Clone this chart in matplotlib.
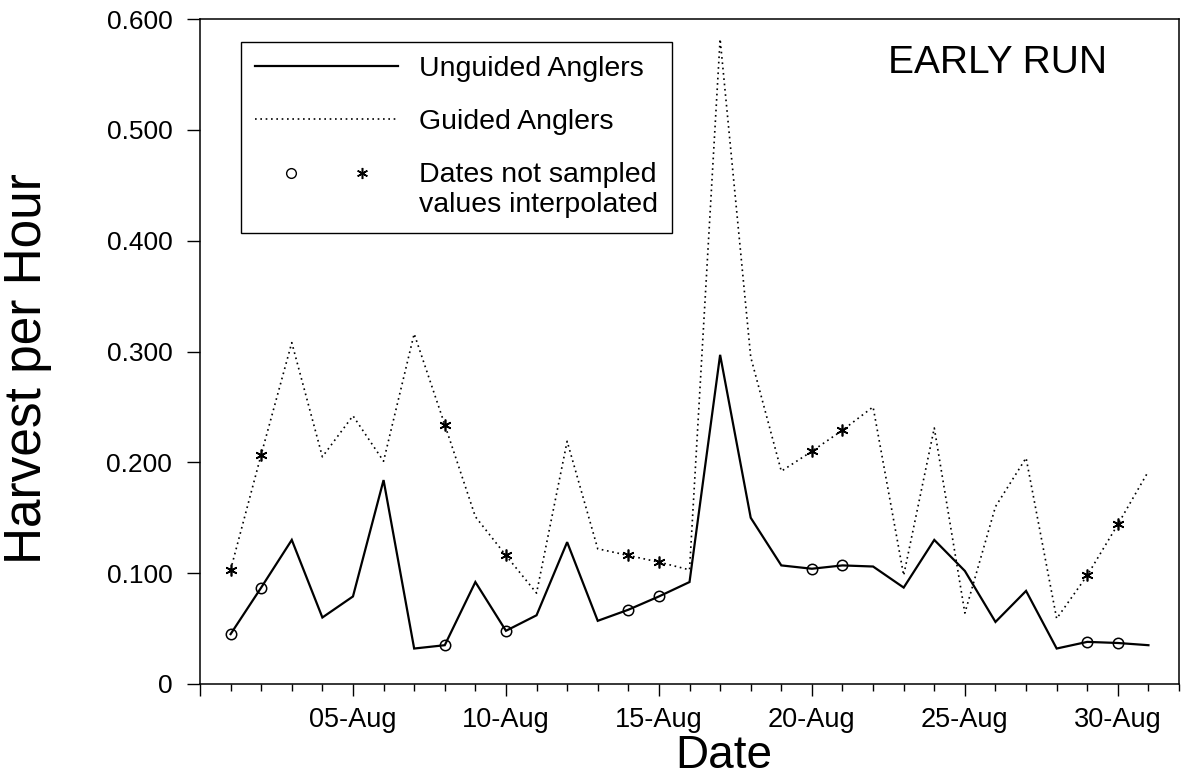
import numpy as np
import matplotlib
matplotlib.use("Agg")
import matplotlib.pyplot as plt
from matplotlib.lines import Line2D
from matplotlib.legend_handler import HandlerLine2D, HandlerTuple
from matplotlib.ticker import FixedLocator, MultipleLocator

plt.rcParams["font.family"] = ["Liberation Sans", "DejaVu Sans"]

# ---------------- DATA ----------------
days = np.arange(1, 32)  # August 1..31

unguided = [0.045, 0.087, 0.130, 0.060, 0.079, 0.184, 0.032, 0.035, 0.092, 0.048,
            0.062, 0.128, 0.057, 0.067, 0.079, 0.092, 0.297, 0.150, 0.107, 0.104,
            0.107, 0.106, 0.087, 0.130, 0.102, 0.056, 0.084, 0.032, 0.038, 0.037,
            0.035]

guided = [0.103, 0.207, 0.308, 0.205, 0.242, 0.201, 0.316, 0.234, 0.151, 0.116,
          0.082, 0.219, 0.122, 0.116, 0.110, 0.103, 0.582, 0.295, 0.192, 0.210,
          0.229, 0.250, 0.098, 0.231, 0.064, 0.160, 0.204, 0.059, 0.098, 0.144,
          0.192]

# dates not sampled (values interpolated)
not_sampled = [1, 2, 8, 10, 14, 15, 20, 21, 29, 30]

major_days = [0, 5, 10, 15, 20, 25, 30]
major_labels = ["", "05-Aug", "10-Aug", "15-Aug", "20-Aug", "25-Aug", "30-Aug"]
y_ticks = [0, 0.1, 0.2, 0.3, 0.4, 0.5, 0.6]
y_labels = ["0", "0.100", "0.200", "0.300", "0.400", "0.500", "0.600"]

# ---------------- PLOT ----------------
fig = plt.figure(figsize=(11.82, 7.77), dpi=100)
ax = fig.add_axes([0.1692, 0.1197, 0.8283, 0.8558])

idx = [d - 1 for d in not_sampled]
dotted = (0, (1, 2.2))

ax.plot(days, unguided, color="black", lw=1.6, solid_joinstyle="miter")
ax.plot(days, guided, color="black", lw=1.2, linestyle=dotted)
ax.plot(days, unguided, linestyle="none", marker="o", ms=7.5, mfc="none",
        mec="black", mew=1.1, markevery=idx)
ax.plot(days, guided, linestyle="none", marker=(6, 2, 0), ms=8.5,
        mec="black", mew=1.2, markevery=idx)

ax.set_xlim(0, 32)
ax.set_ylim(0, 0.6)
ax.xaxis.set_major_locator(FixedLocator(major_days))
ax.set_xticklabels(major_labels)
ax.xaxis.set_minor_locator(MultipleLocator(1))
ax.set_yticks(y_ticks)
ax.set_yticklabels(y_labels)

ax.tick_params(axis="x", which="major", direction="out", length=8.6, width=1.0,
               labelsize=19.5, pad=8)
ax.tick_params(axis="x", which="minor", direction="out", length=5, width=1.0)
ax.tick_params(axis="y", which="major", direction="out", length=9.4, width=1.0,
               labelsize=19, pad=10.5)
for sp in ax.spines.values():
    sp.set_linewidth(1.1)


class RaisedHandler(HandlerLine2D):
    # put the markers on the first line of a two-line label
    def create_artists(self, legend, orig_handle, xdescent, ydescent, width,
                       height, fontsize, trans):
        return super().create_artists(legend, orig_handle, xdescent,
                                      ydescent - 1.2 * fontsize, width, height,
                                      fontsize, trans)


h_solid = Line2D([], [], color="black", lw=1.6)
h_dot = Line2D([], [], color="black", lw=1.2, linestyle=dotted)
h_circ = Line2D([], [], linestyle="none", marker="o", ms=7, mfc="none",
                mec="black", mew=1.0)
h_star = Line2D([], [], linestyle="none", marker=(6, 2, 0), ms=8,
                mec="black", mew=1.1)

leg = ax.legend([h_solid, h_dot, (h_circ, h_star)],
                ["Unguided Anglers", "Guided Anglers",
                 "Dates not sampled\nvalues interpolated"],
                handler_map={tuple: HandlerTuple(ndivide=None, pad=0),
                             h_circ: RaisedHandler(), h_star: RaisedHandler()},
                loc="upper left", bbox_to_anchor=(0.0419, 0.9654),
                borderaxespad=0, fontsize=20.5, handlelength=5.0,
                handletextpad=0.75, labelspacing=0.95, borderpad=0.5,
                fancybox=False, framealpha=1, edgecolor="black")
leg.get_frame().set_linewidth(1.0)

ax.text(0.815, 0.9188, "EARLY RUN", transform=ax.transAxes, fontsize=28,
        ha="center", va="baseline")

fig.text(724 / 1182, 1 - 768 / 777, "Date", fontsize=33, ha="center",
         va="baseline")
fig.text(28 / 1182, 1 - 369 / 777, "Harvest per Hour", fontsize=37,
         rotation=90, ha="center", va="center")

fig.savefig("out.png", dpi=100)
